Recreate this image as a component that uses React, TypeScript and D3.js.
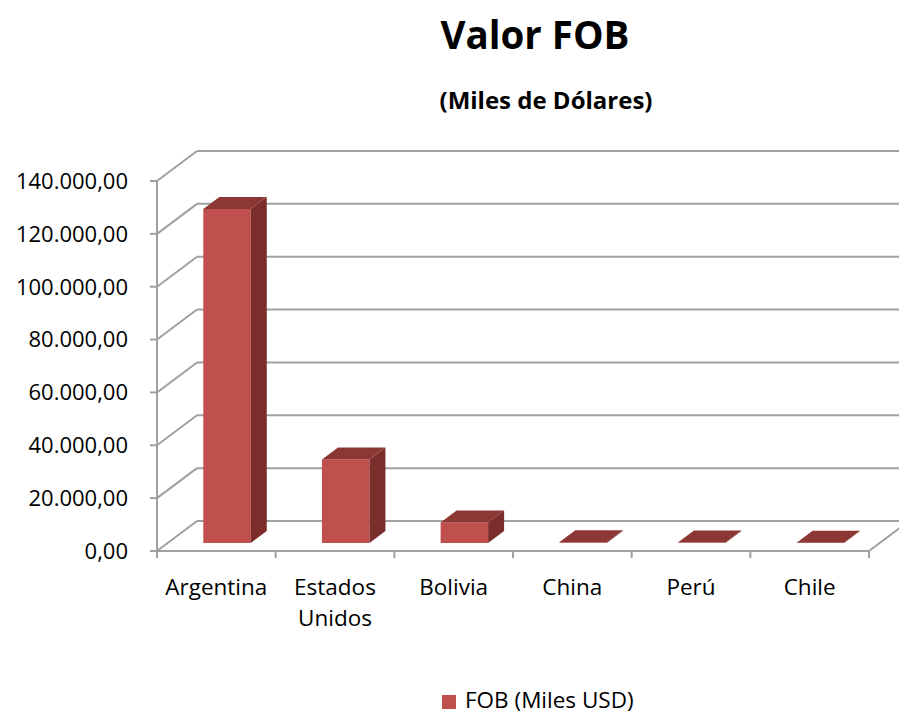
import React from "react";
import * as d3 from "d3";

const categories = ["Argentina", "Estados Unidos", "Bolivia", "China", "Perú", "Chile"];
const categoryLines = [["Argentina"], ["Estados", "Unidos"], ["Bolivia"], ["China"], ["Perú"], ["Chile"]];
const values = [126400, 31600, 7800, 250, 150, 100];
const yTicks = [0, 20000, 40000, 60000, 80000, 100000, 120000, 140000];
const seriesName = "FOB (Miles USD)";
const title = "Valor FOB";
const subtitle = "(Miles de Dólares)";

const W = 899;
const H = 716;
const FONT = "'Open Sans', Lato, sans-serif";

const locale = d3.formatLocale({ decimal: ",", thousands: ".", grouping: [3], currency: ["", ""] });
const fmt = locale.format(",.2f");

export default function App() {
  const x0 = 157, x1 = 869, yBottom = 551, yTop = 181;
  const wallDx = 40, wallDy = -30;
  const barOffDx = 10.7, barOffDy = -8;
  const barDx = 16, barDy = -12;

  const y = d3.scaleLinear().domain([0, 140000]).range([yBottom, yTop]);
  const x = d3.scaleBand<string>().domain(categories).range([x0, x1]).padding(0);
  const barW = x.bandwidth() / 2.5;

  const grid = "#A0A0A0";
  const front = "#C0504D";
  const top = "#8C3734";
  const side = "#7A2D2B";

  return (
    <svg width={W} height={H} style={{ display: "block", position: "absolute", left: 0, top: 0 }}>
      <rect width={W} height={H} fill="#fff" />
      <text x={535} y={49} textAnchor="middle" fontFamily={FONT} fontWeight="bold" fontSize={38.5} fill="#000">{title}</text>
      <text x={546} y={109} textAnchor="middle" fontFamily={FONT} fontWeight="bold" fontSize={24} fill="#000">{subtitle}</text>

      {/* gridlines: side wall diagonals + back wall horizontals */}
      {yTicks.map((t) => (
        <g key={"g" + t}>
          <line x1={x0} y1={y(t)} x2={x0 + wallDx} y2={y(t) + wallDy} stroke={grid} strokeWidth={2} />
          <line x1={x0 + wallDx} y1={y(t) + wallDy} x2={x1 + wallDx} y2={y(t) + wallDy} stroke={grid} strokeWidth={2} />
          <line x1={x0 - 7} y1={y(t)} x2={x0} y2={y(t)} stroke={grid} strokeWidth={2} />
          <text x={128} y={y(t)} dy="0.36em" textAnchor="end" fontFamily={FONT} fontSize={22} fill="#000">{fmt(t)}</text>
        </g>
      ))}
      {/* vertical axis */}
      <line x1={x0} y1={yTop} x2={x0} y2={yBottom} stroke={grid} strokeWidth={2} />
      {/* floor front edge and right diagonal */}
      <line x1={x0} y1={yBottom} x2={x1} y2={yBottom} stroke={grid} strokeWidth={2} />
      <line x1={x1} y1={yBottom} x2={x1 + wallDx} y2={yBottom + wallDy} stroke={grid} strokeWidth={2} />
      {categories.map((c, i) => (
        <line key={"t" + i} x1={x(c)!} y1={yBottom} x2={x(c)!} y2={yBottom + 7} stroke={grid} strokeWidth={2} />
      ))}
      <line x1={x1} y1={yBottom} x2={x1} y2={yBottom + 7} stroke={grid} strokeWidth={2} />

      {/* bars */}
      {categories.map((c, i) => {
        const cx = x(c)! + x.bandwidth() / 2;
        const l = cx - barW / 2 + barOffDx;
        const r = l + barW;
        const b = yBottom + barOffDy;
        const tp = y(values[i]) + barOffDy;
        const pts = (a: number[][]) => a.map((p) => p.join(",")).join(" ");
        return (
          <g key={"b" + i}>
            <rect x={l} y={tp} width={barW} height={Math.max(0, b - tp)} fill={front} />
            <polygon points={pts([[r, tp], [r + barDx, tp + barDy], [r + barDx, b + barDy], [r, b]])} fill={side} />
            <polygon points={pts([[l, tp], [l + barDx, tp + barDy], [r + barDx, tp + barDy], [r, tp]])} fill={top} />
          </g>
        );
      })}

      {/* category labels */}
      {categoryLines.map((lines, i) => (
        <text key={"c" + i} x={x(categories[i])! + x.bandwidth() / 2} y={595} textAnchor="middle" fontFamily={FONT} fontSize={22.5} fill="#000">
          {lines.map((ln, j) => (
            <tspan key={j} x={x(categories[i])! + x.bandwidth() / 2} dy={j === 0 ? 0 : 31}>{ln}</tspan>
          ))}
        </text>
      ))}

      {/* legend */}
      <rect x={442} y={695} width={14} height={14} fill={front} />
      <text x={465} y={708} fontFamily={FONT} fontSize={22.5} fill="#000">{seriesName}</text>
    </svg>
  );
}
